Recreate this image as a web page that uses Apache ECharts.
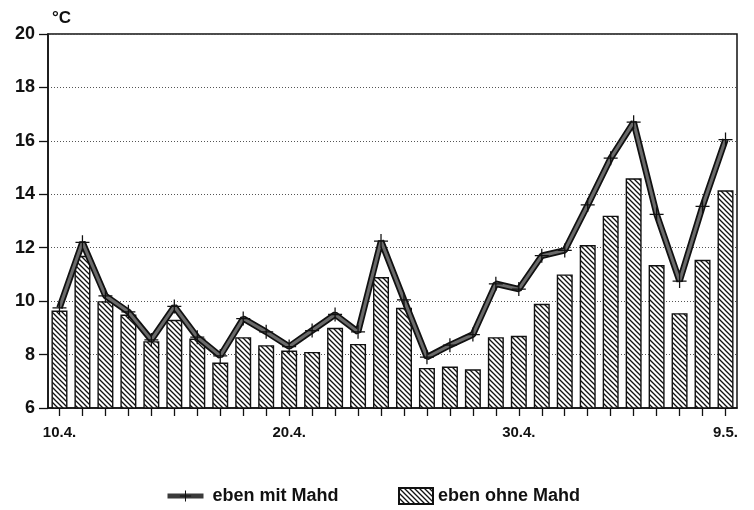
<!DOCTYPE html>
<html>
<head>
<meta charset="utf-8">
<script src="https://cdn.jsdelivr.net/npm/echarts@6/dist/echarts.min.js"></script>
<style>
  html, body { margin: 0; padding: 0; background: #fff; }
  #chart { width: 754px; height: 510px; }
</style>
</head>
<body>
<div id="chart"></div>
<script>
// Temperaturverlauf 10.4. - 9.5., Linie mit Mahd, Balken ohne Mahd
const days = [
  '10.4.', '11.4.', '12.4.', '13.4.', '14.4.', '15.4.', '16.4.', '17.4.', '18.4.', '19.4.',
  '20.4.', '21.4.', '22.4.', '23.4.', '24.4.', '25.4.', '26.4.', '27.4.', '28.4.', '29.4.',
  '30.4.', '1.5.', '2.5.', '3.5.', '4.5.', '5.5.', '6.5.', '7.5.', '8.5.', '9.5.'
]
const shownLabels = ['10.4.', '20.4.', '30.4.', '9.5.']

const mitMahd = [
  9.75, 12.2, 10.2, 9.6, 8.55, 9.8, 8.65, 7.95, 9.35, 8.85,
  8.3, 8.9, 9.5, 8.85, 12.25, 10.05, 7.9, 8.35, 8.75, 10.65,
  10.45, 11.7, 11.9, 13.6, 15.35, 16.7, 13.25, 10.75, 13.55, 16.05
]
const ohneMahd = [
  9.65, 11.7, 10.0, 9.5, 8.5, 9.3, 8.6, 7.7, 8.65, 8.35,
  8.15, 8.1, 9.0, 8.4, 10.9, 9.75, 7.5, 7.55, 7.45, 8.65,
  8.7, 9.9, 11.0, 12.1, 13.2, 14.6, 11.35, 9.55, 11.55, 14.15
]

// Schraffur fuer die Balken
const makeHatch = () => {
  const s = 5
  const c = document.createElement('canvas')
  c.width = s
  c.height = s
  const ctx = c.getContext('2d')
  ctx.fillStyle = '#fff'
  ctx.fillRect(0, 0, s, s)
  ctx.strokeStyle = '#111'
  ctx.lineWidth = 1.3
  ctx.beginPath()
  ctx.moveTo(-1, -1); ctx.lineTo(s + 1, s + 1)
  ctx.moveTo(-1, s - 1); ctx.lineTo(1, s + 1)
  ctx.moveTo(s - 1, -1); ctx.lineTo(s + 1, 1)
  ctx.stroke()
  return c
}

const plusPath = 'path://M-0.09,-1h0.18v0.91h0.91v0.18h-0.91v0.91h-0.18v-0.91h-0.91v-0.18h0.91z'
const font = '"Liberation Sans", Arial, sans-serif'
const hatch = makeHatch()

const chart = echarts.init(document.getElementById('chart'))

const option = {
  animation: false,
  backgroundColor: '#fff',
  grid: {
    left: 48,
    right: 17,
    top: 34,
    bottom: 102,
    show: true,
    borderColor: '#111',
    borderWidth: 1.5
  },
  legend: [
    {
      data: ['eben mit Mahd'],
      left: 160,
      top: 482,
      itemWidth: 36,
      itemHeight: 14,
      lineStyle: { color: '#3a3a3a', width: 5 },
      textStyle: { fontFamily: font, fontWeight: 'bold', fontSize: 18, color: '#111', padding: [0, 0, 0, 4] }
    },
    {
      data: [{ name: 'eben ohne Mahd', icon: 'rect' }],
      left: 393,
      top: 482,
      itemWidth: 34,
      itemHeight: 16,
      textStyle: { fontFamily: font, fontWeight: 'bold', fontSize: 18, color: '#111' }
    }
  ],
  xAxis: {
    type: 'category',
    data: days,
    axisLine: { lineStyle: { color: '#111', width: 1.5 } },
    axisTick: { show: true, alignWithLabel: true, interval: 0, length: 8, lineStyle: { color: '#111', width: 1.3 } },
    axisLabel: {
      interval: (i, v) => shownLabels.includes(v),
      margin: 17,
      fontFamily: font,
      fontWeight: 'bold',
      fontSize: 15,
      color: '#111'
    },
    splitLine: { show: false }
  },
  yAxis: {
    type: 'value',
    min: 6,
    max: 20,
    interval: 2,
    name: '°C',
    nameLocation: 'end',
    nameGap: 7,
    nameTextStyle: { fontFamily: font, fontWeight: 'bold', fontSize: 17, color: '#111', align: 'left', padding: [0, 0, 0, 4] },
    axisLine: { show: true, lineStyle: { color: '#111', width: 1.5 } },
    axisTick: { show: true, length: 9, lineStyle: { color: '#111', width: 1.3 } },
    axisLabel: { margin: 13, fontFamily: font, fontWeight: 'bold', fontSize: 18, color: '#111' },
    splitLine: { show: true, lineStyle: { color: '#555', type: [1, 2], width: 1 } }
  },
  series: [
    {
      name: 'eben ohne Mahd',
      type: 'bar',
      data: ohneMahd,
      barWidth: 16,
      itemStyle: {
        color: { image: hatch, repeat: 'repeat' },
        borderColor: '#111',
        borderWidth: 1.4
      },
      z: 2
    },
    {
      name: 'outline',
      type: 'line',
      data: mitMahd,
      symbol: 'none',
      lineStyle: { color: '#111', width: 6.5 },
      z: 3
    },
    {
      name: 'eben mit Mahd',
      type: 'line',
      data: mitMahd,
      symbol: plusPath,
      symbolSize: 14,
      itemStyle: { color: '#111' },
      lineStyle: { color: '#6a6a6a', width: 3 },
      z: 4
    }
  ]
}

chart.setOption(option)
</script>
</body>
</html>
